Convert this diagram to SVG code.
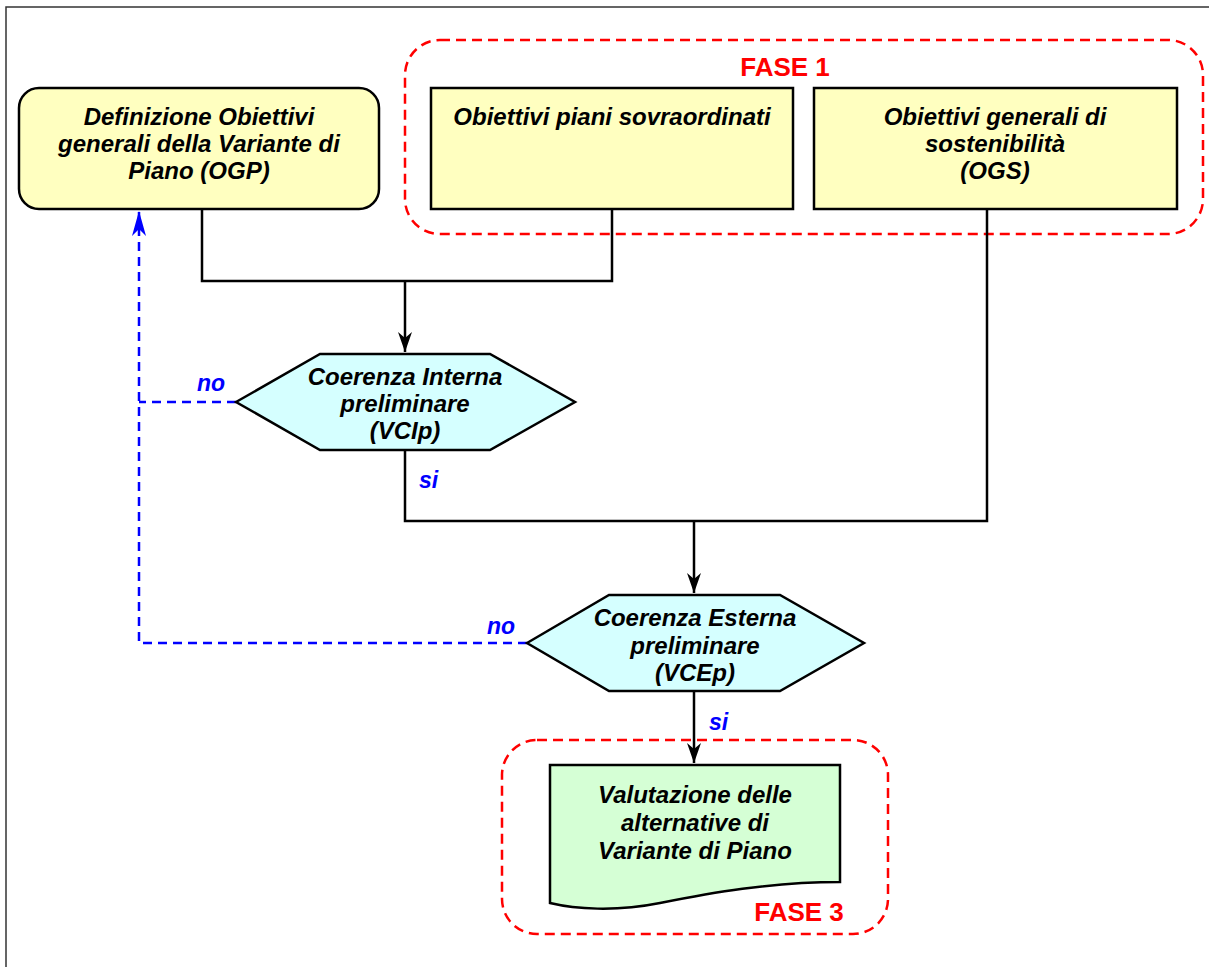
<svg xmlns="http://www.w3.org/2000/svg" width="1209" height="967" viewBox="0 0 1209 967">
<defs>
<style>
.t{font-family:"Liberation Sans",Arial,sans-serif;font-weight:bold;font-style:italic;font-size:24px;fill:#000;text-anchor:middle}
.lbl{font-family:"Liberation Sans",Arial,sans-serif;font-weight:bold;font-style:italic;font-size:23px;fill:#0000FF}
.fase{font-family:"Liberation Sans",Arial,sans-serif;font-weight:bold;font-size:26px;fill:#FF0000;text-anchor:middle}
.yel{fill:#FFFFC0;stroke:#000;stroke-width:2.5}
.cy{fill:#D5FFFF;stroke:#000;stroke-width:2.5}
.gr{fill:#D5FFD5;stroke:#000;stroke-width:2.5}
.grp{fill:none;stroke:#FF0000;stroke-width:2.5;stroke-dasharray:10,6}
.ln{fill:none;stroke:#000;stroke-width:2.5}
.dl{fill:none;stroke:#0000FF;stroke-width:2.5;stroke-dasharray:9,6}
</style>
<marker id="ah" markerUnits="userSpaceOnUse" markerWidth="22" markerHeight="16" refX="20" refY="8" orient="auto">
<path d="M0,1 L20,8 L0,15 L6,8 Z" fill="#000"/>
</marker>
<marker id="ahb" markerUnits="userSpaceOnUse" markerWidth="28" markerHeight="16" refX="25" refY="8" orient="auto">
<path d="M0,1 L25,8 L0,15 L7,8 Z" fill="#0000FF"/>
</marker>
</defs>
<rect width="1209" height="967" fill="#fff"/>
<path d="M6,967 V7 H1209" fill="none" stroke="#333" stroke-width="1.5"/>

<g id="fase1">
<rect class="grp" x="405" y="40" width="798" height="194" rx="35"/>
<text class="fase" x="785" y="76">FASE 1</text>
</g>
<g id="fase3">
<rect class="grp" x="502" y="740" width="386" height="194" rx="35"/>
<text class="fase" x="799" y="921">FASE 3</text>
</g>

<g id="connectors">
<path class="ln" d="M202,209 V281 H612 V209"/>
<path class="ln" d="M405,281 V352" marker-end="url(#ah)"/>
<path class="ln" d="M405,450 V521 H987 V209"/>
<path class="ln" d="M694,521 V593" marker-end="url(#ah)"/>
<path class="ln" d="M694,691 V763" marker-end="url(#ah)"/>
<path class="dl" d="M236,402 H139"/>
<path class="dl" d="M527,643 H139 V211" marker-end="url(#ahb)"/>
<text class="lbl" x="197" y="391">no</text>
<text class="lbl" x="419" y="488">si</text>
<text class="lbl" x="487" y="634">no</text>
<text class="lbl" x="709" y="730">si</text>
</g>

<g id="ogp">
<rect class="yel" x="19" y="88" width="360" height="121" rx="20"/>
<text class="t" x="199" y="125">Definizione Obiettivi</text>
<text class="t" x="199" y="152">generali della Variante di</text>
<text class="t" x="199" y="179">Piano (OGP)</text>
</g>
<g id="piani">
<rect class="yel" x="431" y="88" width="362" height="121"/>
<text class="t" x="612" y="125">Obiettivi piani sovraordinati</text>
</g>
<g id="ogs">
<rect class="yel" x="814" y="88" width="363" height="121"/>
<text class="t" x="995" y="125">Obiettivi generali di</text>
<text class="t" x="995" y="152">sostenibilità</text>
<text class="t" x="995" y="179">(OGS)</text>
</g>
<g id="vcip">
<polygon class="cy" points="236,402 320,354 490,354 575,402 490,450 320,450"/>
<text class="t" x="405" y="385">Coerenza Interna</text>
<text class="t" x="405" y="412">preliminare</text>
<text class="t" x="405" y="439">(VCIp)</text>
</g>
<g id="vcep">
<polygon class="cy" points="527,643 609,595 780,595 864,643 780,691 609,691"/>
<text class="t" x="695" y="626">Coerenza Esterna</text>
<text class="t" x="695" y="654">preliminare</text>
<text class="t" x="695" y="681">(VCEp)</text>
</g>
<g id="valutazione">
<path class="gr" d="M550,765 H840 V882 C770,882 710,893 660,903 C615,912 575,909 550,903 Z"/>
<text class="t" x="695" y="803">Valutazione delle</text>
<text class="t" x="695" y="831">alternative di</text>
<text class="t" x="695" y="859">Variante di Piano</text>
</g>
</svg>
